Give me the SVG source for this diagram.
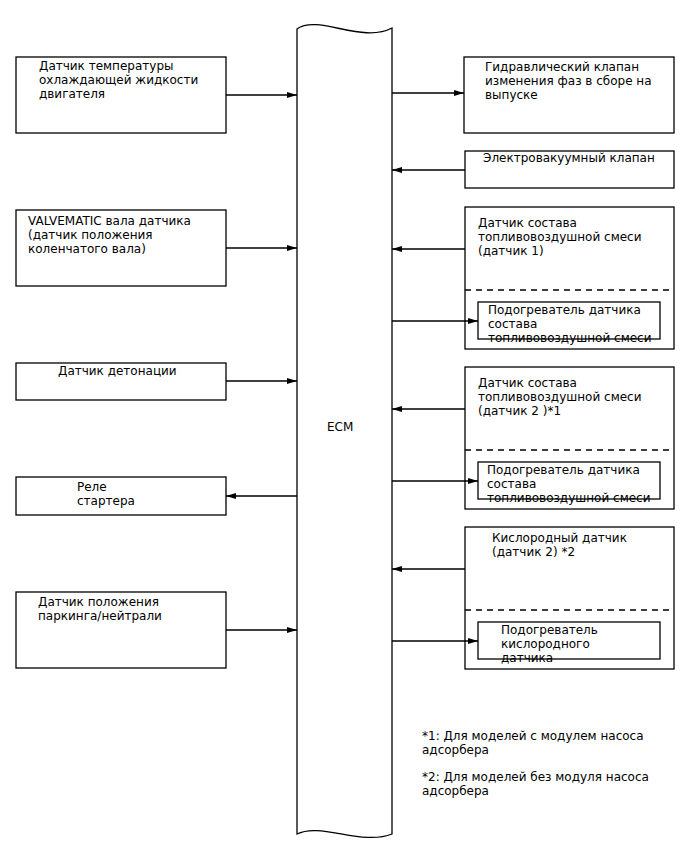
<svg xmlns="http://www.w3.org/2000/svg" width="688" height="852" viewBox="0 0 688 852">
<style>
.box{fill:#fff;stroke:#000;stroke-width:1.3}
.ln{stroke:#000;stroke-width:1.3;fill:none}
.dash{stroke:#000;stroke-width:1.3;stroke-dasharray:6,5;fill:none}
text{font-family:"DejaVu Sans",sans-serif;font-size:12px;fill:#000}
</style>
<defs>
<marker id="ah" viewBox="0 0 10 6" refX="10" refY="3" markerWidth="10" markerHeight="6" markerUnits="userSpaceOnUse" orient="auto">
<path d="M0,0 L10,3 L0,6 Z" fill="#000"/>
</marker>
</defs>
<rect width="688" height="852" fill="#fff"/>
<g id="ecm">
<path class="box" d="M297,29 C318,14 362,44 392,28 L392,834 C362,846 320,822 297,834 Z"/>
<text x="327" y="431">ECM</text>
</g>
<g id="n1"><rect class="box" x="16" y="57" width="210" height="76"/>
<text x="39" y="70">Датчик температуры</text><text x="39" y="84">охлаждающей жидкости</text><text x="39" y="98">двигателя</text></g>
<g id="n2"><rect class="box" x="16" y="210" width="210" height="76"/>
<text x="28" y="225">VALVEMATIC вала датчика</text><text x="28" y="239">(датчик положения</text><text x="28" y="253">коленчатого вала)</text></g>
<g id="n3"><rect class="box" x="16" y="363" width="210" height="37"/>
<text x="58" y="375">Датчик детонации</text></g>
<g id="n4"><rect class="box" x="16" y="477" width="210" height="38"/>
<text x="77" y="491">Реле</text><text x="77" y="505">стартера</text></g>
<g id="n5"><rect class="box" x="16" y="592" width="210" height="76"/>
<text x="38" y="606">Датчик положения</text><text x="38" y="620">паркинга/нейтрали</text></g>
<g id="n6"><rect class="box" x="464" y="57" width="210" height="76"/>
<text x="485" y="71">Гидравлический клапан</text><text x="485" y="85">изменения фаз в сборе на</text><text x="485" y="99">выпуске</text></g>
<g id="n7"><rect class="box" x="465" y="151" width="209" height="37"/>
<text x="483" y="162">Электровакуумный клапан</text></g>
<g id="n8"><rect class="box" x="465" y="207" width="209" height="142"/>
<line class="dash" x1="465" y1="290" x2="674" y2="290"/>
<text x="478" y="227">Датчик состава</text><text x="478" y="241">топливовоздушной смеси</text><text x="478" y="255">(датчик 1)</text>
<g id="n8h"><rect class="box" x="478" y="302" width="182" height="37"/>
<text x="488" y="314">Подогреватель датчика</text><text x="488" y="328">состава</text><text x="488" y="342">топливовоздушной смеси</text></g></g>
<g id="n9"><rect class="box" x="465" y="367" width="209" height="142"/>
<line class="dash" x1="465" y1="450" x2="674" y2="450"/>
<text x="478" y="387">Датчик состава</text><text x="478" y="401">топливовоздушной смеси</text><text x="478" y="415">(датчик 2 )*1</text>
<g id="n9h"><rect class="box" x="478" y="462" width="182" height="37"/>
<text x="487" y="474">Подогреватель датчика</text><text x="487" y="488">состава</text><text x="487" y="502">топливовоздушной смеси</text></g></g>
<g id="n10"><rect class="box" x="465" y="527" width="209" height="142"/>
<line class="dash" x1="465" y1="610" x2="674" y2="610"/>
<text x="492" y="542">Кислородный датчик</text><text x="492" y="556">(датчик 2) *2</text>
<g id="n10h"><rect class="box" x="478" y="622" width="182" height="37"/>
<text x="501" y="634">Подогреватель</text><text x="501" y="648">кислородного</text><text x="501" y="662">датчика</text></g></g>
<g id="notes">
<text x="422" y="740">*1: Для моделей с модулем насоса</text><text x="422" y="754">адсорбера</text>
<text x="422" y="781">*2: Для моделей без модуля насоса</text><text x="422" y="795">адсорбера</text>
</g>
<g id="connectors">
<line class="ln" x1="226" y1="95" x2="297" y2="95" marker-end="url(#ah)"/>
<line class="ln" x1="226" y1="248" x2="297" y2="248" marker-end="url(#ah)"/>
<line class="ln" x1="226" y1="381" x2="297" y2="381" marker-end="url(#ah)"/>
<line class="ln" x1="297" y1="496" x2="226" y2="496" marker-end="url(#ah)"/>
<line class="ln" x1="226" y1="630" x2="297" y2="630" marker-end="url(#ah)"/>
<line class="ln" x1="392" y1="93" x2="464" y2="93" marker-end="url(#ah)"/>
<line class="ln" x1="465" y1="170" x2="392" y2="170" marker-end="url(#ah)"/>
<line class="ln" x1="465" y1="249" x2="392" y2="249" marker-end="url(#ah)"/>
<line class="ln" x1="392" y1="321" x2="478" y2="321" marker-end="url(#ah)"/>
<line class="ln" x1="465" y1="409" x2="392" y2="409" marker-end="url(#ah)"/>
<line class="ln" x1="392" y1="481" x2="478" y2="481" marker-end="url(#ah)"/>
<line class="ln" x1="465" y1="569" x2="392" y2="569" marker-end="url(#ah)"/>
<line class="ln" x1="392" y1="641" x2="478" y2="641" marker-end="url(#ah)"/>
</g>
</svg>
